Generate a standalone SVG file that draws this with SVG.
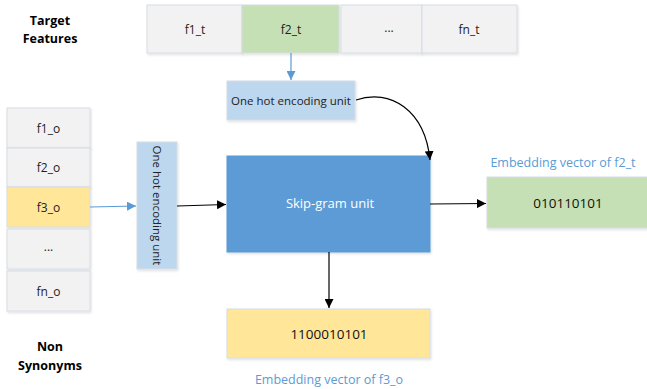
<svg xmlns="http://www.w3.org/2000/svg" width="647" height="389" viewBox="0 0 647 389">
  <defs>
    <marker id="arrBlack" viewBox="0 0 10 10" refX="10" refY="5" markerWidth="9" markerHeight="9" markerUnits="userSpaceOnUse" orient="auto">
      <path d="M0,0 L10,5 L0,10 z" fill="#000"/>
    </marker>
    <marker id="arrBlue" viewBox="0 0 10 10" refX="10" refY="5" markerWidth="9" markerHeight="9" markerUnits="userSpaceOnUse" orient="auto">
      <path d="M0,0 L10,5 L0,10 z" fill="#5B9BD5"/>
    </marker>
    <filter id="shadow" x="-10%" y="-10%" width="125%" height="130%">
      <feDropShadow dx="1" dy="1.5" stdDeviation="1" flood-color="#000" flood-opacity="0.12"/>
    </filter>
  </defs>
  <style>
    .box { stroke: #D6DCE4; stroke-width: 1; filter: url(#shadow); }
    .gray { fill: #F2F2F2; }
    .green { fill: #C5E0B4; }
    .yellow { fill: #FFE699; }
    .lblue { fill: #BDD7EE; }
    .dblue { fill: #5B9BD5; stroke: #5B9BD5; }
    text { font-family: "Open Sans", "Liberation Sans", sans-serif; font-size: 11.5px; fill: #222; text-anchor: middle; dominant-baseline: central; }
    .feat { font-size: 12px; }
    .num { font-size: 13.5px; fill: #111; }
    .title { font-weight: bold; font-size: 12.5px; fill: #000; }
    .white { fill: #fff; font-size: 13px; }
    .cap { fill: #5B9BD5; font-size: 12.5px; }
    .edge { fill: none; stroke: #000; stroke-width: 1.2; }
    .edgeBlue { fill: none; stroke: #5B9BD5; stroke-width: 1.2; }
  </style>

  <rect width="647" height="389" fill="#fff"/>

  <!-- group labels -->
  <g id="label-target">
    <text class="title" x="50" y="20">Target</text>
    <text class="title" x="50" y="38">Features</text>
  </g>
  <g id="label-non-synonyms">
    <text class="title" x="50" y="346">Non</text>
    <text class="title" x="50" y="365">Synonyms</text>
  </g>

  <!-- target feature row -->
  <g id="f1_t"><rect class="box gray" x="147" y="5" width="95" height="48"/><text class="feat" x="195" y="29">f1_t</text></g>
  <g id="f2_t"><rect class="box green" x="242" y="5" width="97" height="48"/><text class="feat" x="291" y="29">f2_t</text></g>
  <g id="t_dots"><rect class="box gray" x="341" y="5" width="81" height="48"/><text class="feat" x="389" y="27">...</text></g>
  <g id="fn_t"><rect class="box gray" x="422" y="5" width="95" height="48"/><text class="feat" x="469" y="29">fn_t</text></g>

  <!-- one hot encoding for target -->
  <g id="onehot-target"><rect class="box lblue" x="227" y="81" width="128" height="39"/><text x="291" y="100.5">One hot encoding unit</text></g>

  <!-- non-synonym column -->
  <g id="f1_o"><rect class="box gray" x="7" y="108" width="83" height="40"/><text class="feat" x="48.5" y="128">f1_o</text></g>
  <g id="f2_o"><rect class="box gray" x="7" y="148" width="83" height="39"/><text class="feat" x="48.5" y="167.5">f2_o</text></g>
  <g id="f3_o"><rect class="box yellow" x="7" y="187" width="83" height="40"/><text class="feat" x="48.5" y="207">f3_o</text></g>
  <g id="o_dots"><rect class="box gray" x="7" y="229" width="83" height="40"/><text class="feat" x="48.5" y="246">...</text></g>
  <g id="fn_o"><rect class="box gray" x="7" y="271" width="83" height="40"/><text class="feat" x="48.5" y="291">fn_o</text></g>

  <!-- vertical one hot encoding -->
  <g id="onehot-other"><rect class="box lblue" x="137" y="142" width="40" height="127"/><text transform="translate(157 205.5) rotate(90)">One hot encoding unit</text></g>

  <!-- skip-gram -->
  <g id="skipgram"><rect class="box dblue" x="227" y="156" width="203" height="96"/><text class="white" x="330" y="203">Skip-gram unit</text></g>

  <!-- outputs -->
  <g id="emb-f2_t">
    <text class="cap" x="563" y="162">Embedding vector of f2_t</text>
    <rect class="box green" x="487" y="177" width="165" height="51"/>
    <text class="num" x="568" y="203">010110101</text>
  </g>
  <g id="emb-f3_o">
    <rect class="box yellow" x="227" y="309" width="203" height="49"/>
    <text class="num" x="329" y="334">1100010101</text>
    <text class="cap" x="329" y="379">Embedding vector of f3_o</text>
  </g>

  <!-- connectors -->
  <g id="connectors">
    <path class="edgeBlue" d="M291,53 L291,80" marker-end="url(#arrBlue)"/>
    <path class="edgeBlue" d="M90,207 L136,206" marker-end="url(#arrBlue)"/>
    <path class="edge" d="M177,206 L226,204.5" marker-end="url(#arrBlack)"/>
    <path class="edge" d="M356,100 C390,88 425,110 430,160" marker-end="url(#arrBlack)"/>
    <path class="edge" d="M430,204 L486,203.5" marker-end="url(#arrBlack)"/>
    <path class="edge" d="M329,252 L329,308" marker-end="url(#arrBlack)"/>
  </g>
</svg>
